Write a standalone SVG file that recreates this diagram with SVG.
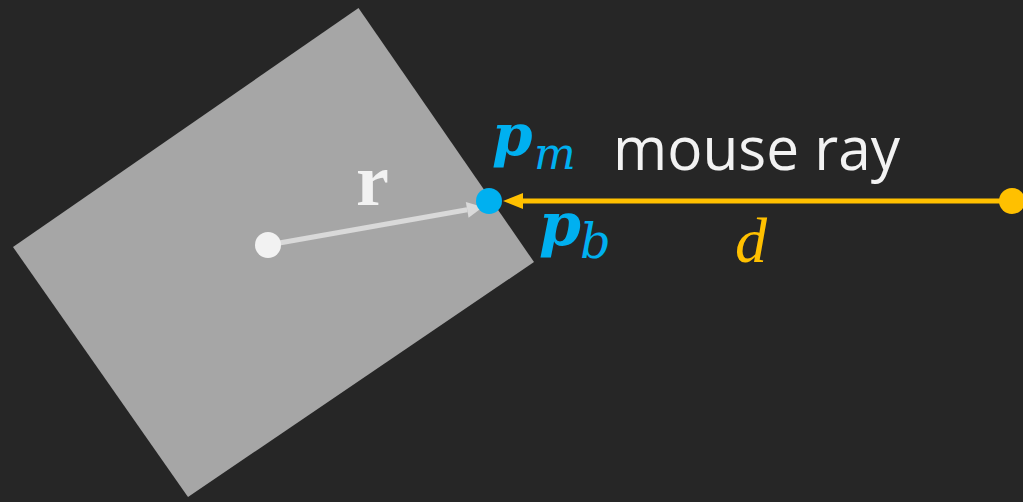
<svg xmlns="http://www.w3.org/2000/svg" width="1023" height="502" viewBox="0 0 1023 502">
<style>
.lbl{font-family:"Open Sans","Liberation Sans",sans-serif;fill:#f2f2f2}
.math{font-family:"DejaVu Serif","Liberation Serif",serif;font-style:italic}
.mathd{font-family:"Liberation Serif","DejaVu Serif",serif;font-style:italic}
.blue{fill:#00b0f0}
.yel{fill:#ffc000}
</style>
<defs>
<marker id="ahW" markerUnits="userSpaceOnUse" markerWidth="20" markerHeight="20" refX="0" refY="0" viewBox="0 -10 20 20" orient="auto" overflow="visible">
<path d="M0,-8 L16,0 L0,8 z" fill="#d9d9d9"/>
</marker>
<marker id="ahY" markerUnits="userSpaceOnUse" markerWidth="22" markerHeight="20" refX="0" refY="0" viewBox="0 -10 22 20" orient="auto" overflow="visible">
<path d="M0,-8 L20,0 L0,8 z" fill="#ffc000"/>
</marker>
</defs>
<rect width="1023" height="502" fill="#262626"/>
<g id="box">
<polygon points="358.5,8 534,262 188,497 13,247" fill="#a6a6a6"/>
</g>
<g id="connectors">
<line id="r-arrow" x1="268" y1="245" x2="467.2" y2="209.8" stroke="#d9d9d9" stroke-width="5" marker-end="url(#ahW)"/>
<line id="ray" x1="1012" y1="201" x2="523" y2="201" stroke="#ffc000" stroke-width="5" marker-end="url(#ahY)"/>
</g>
<g id="center">
<circle cx="268" cy="245" r="13" fill="#f2f2f2"/>
</g>
<g id="hit-point">
<circle cx="489" cy="201" r="13" fill="#00b0f0"/>
</g>
<g id="mouse-point">
<circle cx="1012" cy="201" r="13" fill="#ffc000"/>
</g>
<g id="labels">
<text x="356" y="205" font-family="Liberation Serif, serif" font-weight="bold" font-size="74" fill="#f2f2f2">r</text>
<text x="492" y="155" class="math blue" font-weight="bold" font-size="58">p</text>
<text x="534" y="169" class="math blue" font-size="44">m</text>
<text x="539" y="245" class="math blue" font-weight="bold" font-size="60">p</text>
<text x="580" y="258" class="math blue" font-size="48">b</text>
<text x="735" y="262" class="mathd yel" font-size="64">d</text>
<text x="613" y="170" class="lbl" font-size="60" textLength="287" lengthAdjust="spacingAndGlyphs">mouse ray</text>
</g>
</svg>
